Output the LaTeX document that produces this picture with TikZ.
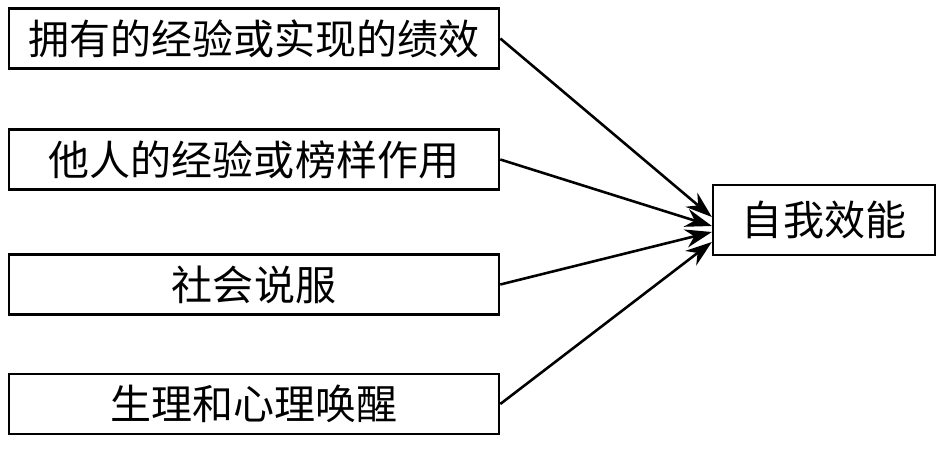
\documentclass[tikz,border=0pt]{standalone}
\usepackage{fontspec}
\newfontfamily\cjk{Noto Sans CJK SC}
\usepackage{tikz}
\usetikzlibrary{shapes,calc}
\usetikzlibrary{arrows.meta,positioning}

\begin{document}
\begin{tikzpicture}[x=0.03cm, y=-0.03cm,
  srcbox/.style={draw, line width=2.2pt, inner sep=0pt, minimum width=14.7cm, minimum height=1.8cm, font=\cjk\fontsize{35}{40}\selectfont},
  tgtbox/.style={draw, line width=2.2pt, inner sep=0pt, minimum width=6.65cm, minimum height=2.1cm, font=\cjk\fontsize{35}{40}\selectfont},
  feed/.style={-{Stealth[length=8mm,width=5.5mm]}, line width=2.2pt}]
\useasboundingbox (0,0) rectangle (942,451);
\node[srcbox] (exp) at (254,38.5) {拥有的经验或实现的绩效};
\node[srcbox] (model) at (254,159.5) {他人的经验或榜样作用};
\node[srcbox] (pers) at (254,284.5) {社会说服};
\node[srcbox] (arous) at (254,404) {生理和心理唤醒};
\node[tgtbox] (se) at (824,220) {自我效能};
\draw[feed] (exp.east) -- ([yshift=0.09cm]se.west);
\draw[feed] (model.east) -- ([yshift=-0.18cm]se.west);
\draw[feed] (pers.east) -- ([yshift=-0.36cm]se.west);
\draw[feed] (arous.east) -- ([yshift=-0.66cm]se.west);
\end{tikzpicture}
\end{document}
